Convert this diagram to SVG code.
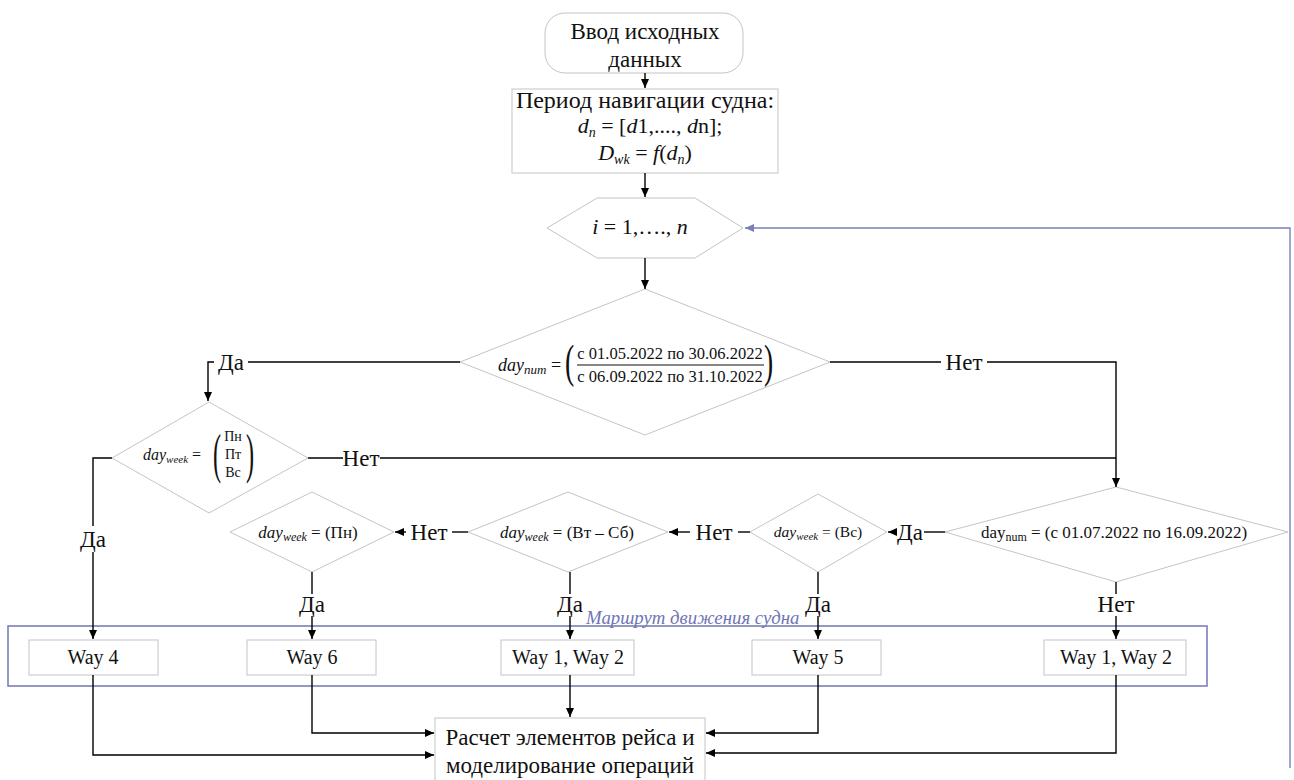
<svg xmlns="http://www.w3.org/2000/svg" width="1294" height="780" viewBox="0 0 1294 780">
<defs>
<marker id="ah" markerUnits="userSpaceOnUse" markerWidth="9" markerHeight="8" refX="9" refY="4" orient="auto"><path d="M0,0 L9,4 L0,8 z" fill="#000"/></marker>
<marker id="ahb" markerUnits="userSpaceOnUse" markerWidth="9" markerHeight="8" refX="9" refY="4" orient="auto"><path d="M0,0 L9,4 L0,8 z" fill="#7b7fb8"/></marker>
<style>
.sh{fill:#fff;stroke:#c4c4c4;stroke-width:1}
.t{font-family:'Liberation Serif','DejaVu Serif',serif;fill:#111}
.m{font-family:'Liberation Serif','DejaVu Serif',serif;fill:#111}
.lbl{font-family:'Liberation Serif','DejaVu Serif',serif;font-size:23px;fill:#111;text-anchor:middle}
.rt{font-family:'Liberation Serif','DejaVu Serif',serif;font-style:italic;font-size:18.8px;fill:#6f75b5}
.c{fill:none;stroke:#000;stroke-width:1.4}
.ca{fill:none;stroke:#000;stroke-width:1.4;marker-end:url(#ah)}
</style>
</defs>
<rect width="1294" height="780" fill="#fff"/>

<g id="start">
<rect class="sh" x="545" y="13" width="198" height="60" rx="20"/>
<text class="t" x="645" y="39" font-size="23" text-anchor="middle">Ввод исходных</text>
<text class="t" x="645" y="67" font-size="23" text-anchor="middle">данных</text>
</g>

<g id="period">
<rect class="sh" x="512" y="89" width="266" height="84"/>
<text class="t" x="645" y="108" font-size="24" text-anchor="middle">Период навигации судна:</text>
<text class="t" x="650" y="133" font-size="22" text-anchor="middle"><tspan font-style="italic">d</tspan><tspan font-style="italic" font-size="14" dy="4">n</tspan><tspan dy="-4"> = [</tspan><tspan font-style="italic">d</tspan>1,...., <tspan font-style="italic">d</tspan>n];</text>
<text class="t" x="645" y="160" font-size="22" text-anchor="middle"><tspan font-style="italic">D</tspan><tspan font-style="italic" font-size="14" dy="4">wk</tspan><tspan dy="-4"> = </tspan><tspan font-style="italic">f</tspan>(<tspan font-style="italic">d</tspan><tspan font-style="italic" font-size="14" dy="4">n</tspan><tspan dy="-4">)</tspan></text>
</g>

<g id="loop">
<polygon class="sh" points="547,228 597,198 695,198 743,228 695,258 597,258"/>
<text class="t" x="640" y="234" font-size="22" text-anchor="middle"><tspan font-style="italic">i</tspan> = 1,…., <tspan font-style="italic">n</tspan></text>
</g>

<g id="dec-daynum">
<polygon class="sh" points="645,289 830,362 645,435 460,362"/>
<text class="m" x="498" y="371" font-size="18"><tspan font-style="italic">day</tspan><tspan font-style="italic" font-size="13" dy="3">num</tspan><tspan dy="-3"> =</tspan></text>
<text class="m" x="565" y="377" font-size="46" transform="translate(565 377) scale(0.6 1) translate(-565 -377)">(</text>
<text class="m" x="670" y="359" font-size="16.5" text-anchor="middle">с 01.05.2022 по 30.06.2022</text>
<line x1="577" y1="365" x2="764" y2="365" stroke="#111" stroke-width="1.2"/>
<text class="m" x="670" y="382" font-size="16.5" text-anchor="middle">с 06.09.2022 по 31.10.2022</text>
<text class="m" x="764" y="377" font-size="46" transform="translate(764 377) scale(0.6 1) translate(-764 -377)">)</text>
</g>

<g id="dec-week1">
<polygon class="sh" points="209,402 308,458 209,513 112,458"/>
<text class="m" x="143" y="460" font-size="16"><tspan font-style="italic">day</tspan><tspan font-style="italic" font-size="11" dy="3">week</tspan><tspan dy="-3"> =</tspan></text>
<text class="m" x="213" y="472" font-size="54" transform="translate(213 472) scale(0.45 1) translate(-213 -472)">(</text>
<text class="m" x="233" y="441" font-size="14" text-anchor="middle">Пн</text>
<text class="m" x="233" y="459" font-size="14" text-anchor="middle">Пт</text>
<text class="m" x="233" y="477" font-size="14" text-anchor="middle">Вс</text>
<text class="m" x="246" y="472" font-size="54" transform="translate(246 472) scale(0.45 1) translate(-246 -472)">)</text>
</g>

<g id="dec-mon">
<polygon class="sh" points="312,492 394,532 312,572 230,532"/>
<text class="m" x="308" y="538" font-size="17" text-anchor="middle"><tspan font-style="italic">day</tspan><tspan font-style="italic" font-size="12" dy="3">week</tspan><tspan dy="-3"> = (Пн)</tspan></text>
</g>

<g id="dec-tuesat">
<polygon class="sh" points="568,492 668,532 568,572 468,532"/>
<text class="m" x="567" y="538" font-size="17" text-anchor="middle"><tspan font-style="italic">day</tspan><tspan font-style="italic" font-size="12" dy="3">week</tspan><tspan dy="-3"> = (Вт – Сб)</tspan></text>
</g>

<g id="dec-sun">
<polygon class="sh" points="818,494 887,532 818,572 750,532"/>
<text class="m" x="818" y="537" font-size="15.5" text-anchor="middle"><tspan font-style="italic">day</tspan><tspan font-style="italic" font-size="11" dy="3">week</tspan><tspan dy="-3"> = (Вс)</tspan></text>
</g>

<g id="dec-summer">
<polygon class="sh" points="1116,487 1288,532 1116,582 945,532"/>
<text class="m" x="1114" y="538" font-size="17" text-anchor="middle">day<tspan font-size="12" dy="3">num</tspan><tspan dy="-3"> = (с 01.07.2022 по 16.09.2022)</tspan></text>
</g>

<g id="route-group">
<rect x="8" y="626" width="1199" height="60" fill="none" stroke="#7b7fb8" stroke-width="1.6"/>
<text class="rt" x="586" y="624">Маршрут движения судна</text>
</g>

<g id="way4"><rect class="sh" x="29" y="640" width="129" height="35"/><text class="t" x="93" y="664" font-size="20" text-anchor="middle">Way 4</text></g>
<g id="way6"><rect class="sh" x="247" y="640" width="129" height="35"/><text class="t" x="312" y="664" font-size="20" text-anchor="middle">Way 6</text></g>
<g id="way12a"><rect class="sh" x="501" y="640" width="133" height="35"/><text class="t" x="568" y="664" font-size="20" text-anchor="middle">Way 1, Way 2</text></g>
<g id="way5"><rect class="sh" x="752" y="640" width="129" height="35"/><text class="t" x="818" y="664" font-size="20" text-anchor="middle">Way 5</text></g>
<g id="way12b"><rect class="sh" x="1044" y="640" width="142" height="35"/><text class="t" x="1116" y="664" font-size="20" text-anchor="middle">Way 1, Way 2</text></g>

<g id="calc">
<rect class="sh" x="435" y="718" width="270" height="70"/>
<text class="t" x="570" y="745" font-size="23" text-anchor="middle">Расчет элементов рейса и</text>
<text class="t" x="570" y="773" font-size="23" text-anchor="middle">моделирование операций</text>
</g>

<g id="connectors">
<path class="ca" d="M645,73 V88"/>
<path class="ca" d="M645,173 V197"/>
<path class="ca" d="M645,258 V289"/>
<path class="c" d="M460,362 H248"/>
<path class="ca" d="M214,362 H208 V401"/>
<path class="c" d="M830,362 H941"/>
<path class="ca" d="M987,362 H1116 V487"/>
<path class="c" d="M308,458 H343"/>
<path class="c" d="M380,458 H1116"/>
<path class="c" d="M112,458 H93 V526"/>
<path class="ca" d="M93,552 V639"/>
<path class="c" d="M945,532 H924"/>
<path class="ca" d="M896,532 H888"/>
<path class="c" d="M750,532 H738"/>
<path class="ca" d="M690,532 H669"/>
<path class="c" d="M468,532 H452"/>
<path class="ca" d="M406,532 H395"/>
<path class="c" d="M312,572 V594"/>
<path class="ca" d="M312,616 V639"/>
<path class="c" d="M570,572 V594"/>
<path class="ca" d="M570,616 V639"/>
<path class="c" d="M818,572 V594"/>
<path class="ca" d="M818,616 V639"/>
<path class="c" d="M1116,582 V594"/>
<path class="ca" d="M1116,616 V639"/>
<path class="ca" d="M93,675 V755 H434"/>
<path class="ca" d="M312,675 V733 H434"/>
<path class="ca" d="M570,675 V717"/>
<path class="ca" d="M818,675 V733 H706"/>
<path class="ca" d="M1116,675 V753 H706"/>
<path d="M1290,768 V228 H745" fill="none" stroke="#7b7fb8" stroke-width="1.4" marker-end="url(#ahb)"/>
<text class="lbl" x="231" y="370">Да</text>
<text class="lbl" x="964" y="370">Нет</text>
<text class="lbl" x="361" y="466">Нет</text>
<text class="lbl" x="93" y="547">Да</text>
<text class="lbl" x="910" y="540">Да</text>
<text class="lbl" x="714" y="540">Нет</text>
<text class="lbl" x="429" y="540">Нет</text>
<text class="lbl" x="312" y="612" font-size="18">Да</text>
<text class="lbl" x="570" y="612" font-size="18">Да</text>
<text class="lbl" x="818" y="612" font-size="18">Да</text>
<text class="lbl" x="1116" y="612" font-size="18">Нет</text>
</g>
</svg>
